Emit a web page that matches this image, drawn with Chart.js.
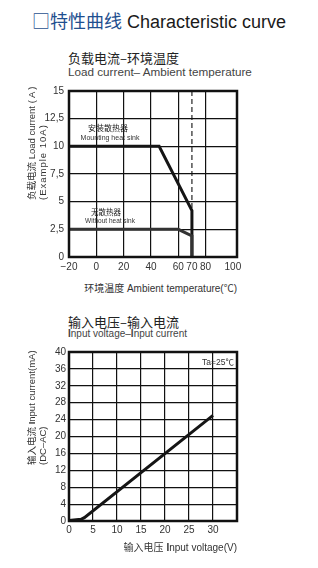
<!DOCTYPE html>
<html>
<head>
<meta charset="utf-8">
<script src="https://cdn.jsdelivr.net/npm/chart.js@4.4.0/dist/chart.umd.min.js"></script>
<style>
html, body { margin: 0; padding: 0; background: #fff; }
body { width: 318px; height: 568px; position: relative; overflow: hidden;
       font-family: "Liberation Sans", Arial, "Noto Sans CJK SC", sans-serif; color: #222; }
.t { position: absolute; white-space: nowrap; line-height: 1; }
.cn { font-family: "Noto Sans CJK SC", sans-serif; }
.box { position: absolute; left: 0; width: 318px; height: 200px; }
.rot { transform: rotate(-90deg); transform-origin: 0 0; }
.c { transform: translateX(-50%); }
</style>
</head>
<body>

<div class="t" style="left:32px;top:11px;font-size:18px;">
  <span class="cn" style="color:#1f4f8f;">□特性曲线</span> <span style="color:#1a1a1a;">Characteristic curve</span>
</div>

<!-- chart 1 headings -->
<div class="t cn" style="left:68px;top:51px;font-size:13px;color:#222;">负载电流–环境温度</div>
<div class="t" style="left:68px;top:66px;font-size:11.7px;color:#444;">Load current– Ambient temperature</div>

<div class="box" style="top:80px;"><canvas id="loadChart" width="318" height="200"></canvas></div>

<div class="t rot" style="left:27px;top:200px;font-size:9.5px;color:#333;"><span class="cn">负载电流</span> Load current ( A )</div>
<div class="t rot" style="left:38px;top:200px;font-size:9.5px;color:#333;letter-spacing:1px;">(Example 10A)</div>
<div class="t" style="right:81px;top:283px;font-size:10px;color:#333;"><span class="cn">环境温度</span> Ambient temperature(℃)</div>

<div class="t cn c" style="left:108px;top:124px;font-size:8px;color:#222;">安装散热器</div>
<div class="t c" style="left:110px;top:134px;font-size:7px;color:#333;">Mounting heat sink</div>
<div class="t cn c" style="left:106px;top:208px;font-size:7.5px;color:#222;">无散热器</div>
<div class="t c" style="left:110px;top:218px;font-size:6.5px;color:#333;">Without heat sink</div>

<!-- chart 2 headings -->
<div class="t cn" style="left:68px;top:315px;font-size:13px;color:#222;">输入电压–输入电流</div>
<div class="t" style="left:68px;top:329px;font-size:10px;color:#444;"><b>I</b>nput voltage–<b>I</b>nput current</div>

<div class="box" style="top:340px;"><canvas id="inputChart" width="318" height="200"></canvas></div>

<div class="t rot" style="left:27px;top:465px;font-size:9.5px;color:#333;"><span class="cn">输入电流</span> <b>I</b>nput current(mA)</div>
<div class="t rot" style="left:38px;top:465px;font-size:9.5px;color:#333;">(DC–AC)</div>
<div class="t" style="right:81px;top:542px;font-size:10px;color:#333;"><span class="cn">输入电压</span> <b>I</b>nput voltage(V)</div>
<div class="t" style="right:84px;top:358px;font-size:8.5px;color:#333;">Ta=25℃</div>

<script>
// load current vs ambient temperature
const loadTicksX = [-20, 0, 20, 40, 60, 70, 80, 100];
const loadTicksY = [0, 2.5, 5, 7.5, 10, 12.5, 15];
const heatSinkTemp    = [-20, 46, 70, 70];
const heatSinkCurrent = [10, 10, 4.2, 0];
const noSinkTemp      = [-20, 60, 70, 70];
const noSinkCurrent   = [2.5, 2.5, 1.9, 0];
const derateTemp = 70;

// input current vs input voltage
const voltTicksX = [0, 5, 10, 15, 20, 25, 30];
const currTicksY = [0, 4, 8, 12, 16, 20, 24, 28, 32, 36, 40];
const inputVoltage = [0, 2.5, 3.2, 30];
const inputCurrent = [0.1, 0.4, 0.8, 25];

const FONT = { family: 'Liberation Sans', size: 10 };
const GRID = '#111';

function pts(xs, ys) { return xs.map((x, i) => ({ x, y: ys[i] })); }

const framePlugin = {
  id: 'frame',
  afterDraw(chart) {
    const { ctx, chartArea: a } = chart;
    ctx.save();
    ctx.strokeStyle = '#111';
    ctx.lineWidth = 2.5;
    ctx.strokeRect(a.left, a.top, a.right - a.left, a.bottom - a.top);
    ctx.restore();
  }
};

const dashPlugin = {
  id: 'dash70',
  beforeDatasetsDraw(chart) {
    const { ctx, chartArea: a } = chart;
    const x = chart.scales.x.getPixelForValue(derateTemp);
    ctx.save();
    ctx.strokeStyle = '#111';
    ctx.lineWidth = 1.1;
    ctx.setLineDash([5, 3]);
    ctx.beginPath();
    ctx.moveTo(x, a.top);
    ctx.lineTo(x, a.bottom);
    ctx.stroke();
    ctx.restore();
  }
};

function line(data, color) {
  return { data, borderColor: color, borderWidth: 3, pointRadius: 0, tension: 0,
           fill: false, borderJoinStyle: 'miter', clip: false };
}

function scale(min, max, ticks, opts) {
  return {
    type: 'linear', min, max,
    afterBuildTicks: s => { s.ticks = ticks.map(v => ({ value: v })); },
    afterFit: opts.fit,
    grid: { color: opts.gridColor || GRID, lineWidth: 1.2, drawTicks: false },
    border: { display: false },
    ticks: { padding: opts.pad, color: '#333', font: FONT, autoSkip: false, maxRotation: 0,
             callback: opts.fmt || (v => String(v)) }
  };
}

const common = {
  responsive: false,
  animation: false,
  devicePixelRatio: 1,
  plugins: { legend: { display: false }, tooltip: { enabled: false } }
};

new Chart(document.getElementById('loadChart'), {
  type: 'line',
  data: { datasets: [
    line(pts(noSinkTemp, noSinkCurrent), '#333'),
    line(pts(heatSinkTemp, heatSinkCurrent), '#151515')
  ] },
  options: {
    ...common,
    layout: { padding: { top: 10, right: 81, left: 0, bottom: 0 } },
    scales: {
      x: scale(-20, 103, loadTicksX, {
        fit: s => { s.height = 23; }, pad: 4,
        gridColor: c => (c.tick && (c.tick.value === 100 || c.tick.value === derateTemp)) ? 'rgba(0,0,0,0)' : GRID,
        fmt: v => String(v).replace('-', '−')
      }),
      y: scale(0, 15, loadTicksY, {
        fit: s => { s.width = 69; }, pad: 5,
        fmt: v => String(v).replace('.', ',')
      })
    }
  },
  plugins: [dashPlugin, framePlugin]
});

new Chart(document.getElementById('inputChart'), {
  type: 'line',
  data: { datasets: [ line(pts(inputVoltage, inputCurrent), '#151515') ] },
  options: {
    ...common,
    layout: { padding: { top: 12, right: 81, left: 0, bottom: 0 } },
    scales: {
      x: scale(0, 35, voltTicksX, { fit: s => { s.height = 19; }, pad: 3 }),
      y: scale(0, 40, currTicksY, { fit: s => { s.width = 69; }, pad: 3 })
    }
  },
  plugins: [framePlugin]
});
</script>
</body>
</html>
